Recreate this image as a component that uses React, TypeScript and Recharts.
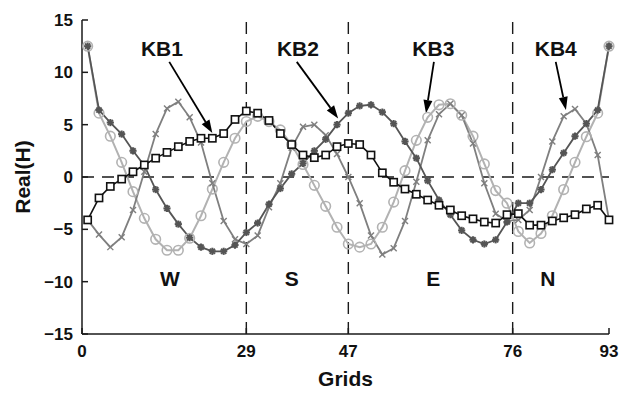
import React from "react";
import { LineChart, Line, XAxis, YAxis, ReferenceLine, ReferenceDot, Label } from "recharts";

// grid index of every sampled point
const grids = [
  1, 3, 5, 7, 9, 11, 13, 15, 17, 19, 21, 23, 25, 27, 29, 31, 33, 35, 37, 39, 41, 43, 45, 47,
  49, 51, 53, 55, 57, 59, 61, 63, 65, 67, 69, 71, 73, 75, 77, 79, 81, 83, 85, 87, 89, 91, 93,
];

const kb1 = [
  -4.1, -2.0, -0.9, -0.2, 0.5, 1.15, 1.8, 2.35, 2.9, 3.4, 3.7, 3.7, 4.15, 5.5, 6.3, 6.1, 5.4,
  4.15, 3.1, 2.1, 1.85, 2.1, 2.9, 3.2, 3.1, 2.1, 0.4, -0.5, -1.15, -1.65, -2.2, -2.7, -3.15,
  -3.7, -4.0, -4.3, -4.4, -3.6, -3.5, -4.6, -4.6, -4.2, -3.9, -3.6, -3.05, -2.7, -4.1,
];

const kb2 = [
  12.5, 6.4, 5.2, 4.1, 2.5, 1.1, -1.2, -3.0, -4.5, -5.8, -6.7, -7.1, -7.1, -6.5, -5.3, -4.4,
  -2.6, -1.1, 0.3, 1.3, 2.5, 3.6, 5.0, 6.1, 6.8, 6.9, 6.2, 5.1, 3.4, 1.8, -0.35, -2.2, -3.6,
  -5.1, -6.0, -6.4, -6.0, -4.3, -2.5, -2.5, -1.2, 0.7, 2.3, 3.9, 5.1, 6.4, 12.5,
];

const kb3 = [
  12.5, 6.1, 3.9, 1.4, -1.4, -3.95, -5.95, -7.0, -7.0, -5.85, -3.7, -1.15, 1.4, 3.7, 5.3, 5.8,
  5.3, 4.5, 3.1, 1.2, -0.8, -2.8, -4.8, -6.4, -6.7, -6.4, -4.8, -2.4, 0.6, 3.5, 5.7, 6.9, 7.0,
  5.9, 3.9, 1.25, -1.3, -2.5, -5.2, -6.3, -5.4, -3.7, -1.2, 1.4, 3.85, 6.1, 12.5,
];

const kb4 = [
  -4.1, -5.5, -6.7, -5.75, -3.15, 0.5, 4.1, 6.55, 7.2, 5.7, 3.3, -0.6, -4.2, -5.95, -6.4, -5.6,
  -2.9, -0.6, 2.8, 4.8, 5.0, 4.0, 2.2, 0.0, -2.5, -5.6, -7.4, -6.8, -4.2, -0.45, 3.5, 6.0, 7.0,
  5.9, 3.2, -0.6, -3.5, -4.2, -4.1, -3.15, 0.0, 3.4, 5.8, 6.5, 5.1, 2.1, -4.1,
];

const xTicks = [0, 29, 47, 76, 93];
const yTicks = [-15, -10, -5, 0, 5, 10, 15];
const regionBounds = [29, 47, 76];
const regionNames = ["W", "S", "E", "N"];
const seriesNames = ["KB1", "KB2", "KB3", "KB4"];

const data = grids.map((g, i) => ({ grid: g, kb1: kb1[i], kb2: kb2[i], kb3: kb3[i], kb4: kb4[i] }));

const FONT = "'Liberation Sans', Arial, Helvetica, sans-serif";
const AXIS = "#1a1a1a";

// where the region letters and the series callouts sit, in data units
const regionPos = [
  { x: 15.5, y: -9.7 },
  { x: 37, y: -9.7 },
  { x: 62, y: -9.7 },
  { x: 82.2, y: -9.7 },
];
const calloutPos = [
  { tx: 14.1, ty: 12.3, from: { x: 15.4, y: 11.0 }, to: { x: 23.0, y: 4.2 } },
  { tx: 38.1, ty: 12.3, from: { x: 37.9, y: 11.0 }, to: { x: 45.2, y: 5.6 } },
  { tx: 62.0, ty: 12.3, from: { x: 62.1, y: 11.0 }, to: { x: 60.7, y: 6.1 } },
  { tx: 83.6, ty: 12.3, from: { x: 83.6, y: 11.0 }, to: { x: 85.4, y: 6.4 } },
];

const fmt = (v: number) => String(v).replace("-", "\u2212");

const BottomTick = (props: any) => {
  const { x, y, payload } = props;
  return (
    <g>
      <line x1={x} y1={y} x2={x} y2={y - 6} stroke={AXIS} strokeWidth={1.5} />
      <text x={x} y={y + 23} textAnchor="middle" fontFamily={FONT} fontWeight="bold" fontSize={17} fill="#111">
        {fmt(payload.value)}
      </text>
    </g>
  );
};

const TopTick = (props: any) => {
  const { x, y } = props;
  return <line x1={x} y1={y} x2={x} y2={y + 6} stroke={AXIS} strokeWidth={1.5} />;
};

const LeftTick = (props: any) => {
  const { x, y, payload } = props;
  return (
    <g>
      <line x1={x} y1={y} x2={x + 6} y2={y} stroke={AXIS} strokeWidth={1.5} />
      <text x={x - 9} y={y} dy="0.36em" textAnchor="end" fontFamily={FONT} fontWeight="bold" fontSize={17} fill="#111">
        {fmt(payload.value)}
      </text>
    </g>
  );
};

const RightTick = (props: any) => {
  const { x, y } = props;
  return <line x1={x} y1={y} x2={x - 6} y2={y} stroke={AXIS} strokeWidth={1.5} />;
};

const SquareDot = (p: any) => (
  <rect key={`sq-${p.index}`} x={p.cx - 3.6} y={p.cy - 3.6} width={7.2} height={7.2} fill="#fff" stroke="#111" strokeWidth={1.6} />
);

const StarDot = (p: any) => {
  const r = 3.6;
  return (
    <g key={`st-${p.index}`} stroke="#555" strokeWidth={2}>
      <line x1={p.cx - r} y1={p.cy} x2={p.cx + r} y2={p.cy} />
      <line x1={p.cx} y1={p.cy - r} x2={p.cx} y2={p.cy + r} />
      <line x1={p.cx - r * 0.72} y1={p.cy - r * 0.72} x2={p.cx + r * 0.72} y2={p.cy + r * 0.72} />
      <line x1={p.cx - r * 0.72} y1={p.cy + r * 0.72} x2={p.cx + r * 0.72} y2={p.cy - r * 0.72} />
    </g>
  );
};

const CircleDot = (p: any) => (
  <circle key={`ci-${p.index}`} cx={p.cx} cy={p.cy} r={4.8} fill="none" stroke="#b2b2b2" strokeWidth={1.6} />
);

const CrossDot = (p: any) => (
  <g key={`cr-${p.index}`} stroke="#7f7f7f" strokeWidth={1.4}>
    <line x1={p.cx - 3} y1={p.cy - 3} x2={p.cx + 3} y2={p.cy + 3} />
    <line x1={p.cx - 3} y1={p.cy + 3} x2={p.cx + 3} y2={p.cy - 3} />
  </g>
);

// callout arrow: shaft plus a filled head at the second point
const Arrow = (props: any) => {
  const { x1, y1, x2, y2 } = props;
  const ang = Math.atan2(y2 - y1, x2 - x1);
  const len = 13;
  const half = 4.5;
  const bx = x2 - len * Math.cos(ang);
  const by = y2 - len * Math.sin(ang);
  const nx = -Math.sin(ang) * half;
  const ny = Math.cos(ang) * half;
  return (
    <g>
      <line x1={x1} y1={y1} x2={bx} y2={by} stroke="#000" strokeWidth={1.8} />
      <polygon points={`${x2},${y2} ${bx + nx},${by + ny} ${bx - nx},${by - ny}`} fill="#000" />
    </g>
  );
};

const textShape = (value: string) => (props: any) => (
  <text
    x={props.cx}
    y={props.cy}
    dy="0.36em"
    textAnchor="middle"
    fontFamily={FONT}
    fontWeight="bold"
    fontSize={21}
    fill="#111"
  >
    {value}
  </text>
);

export default function App() {
  return (
    <div style={{ position: "absolute", left: 0, top: 0, width: 621, height: 393, background: "#fff" }}>
      <LineChart width={621} height={393} data={data} margin={{ top: 20, right: 12, bottom: 0, left: 0 }}>
        <XAxis
          dataKey="grid"
          type="number"
          domain={[0, 93]}
          ticks={xTicks}
          interval={0}
          tickSize={0}
          tickMargin={0}
          tick={<BottomTick />}
          tickLine={false}
          height={59}
          axisLine={{ stroke: AXIS, strokeWidth: 1.5 }}
        >
          <Label
            content={(p: any) => (
              <text
                x={p.viewBox.x + p.viewBox.width / 2}
                y={p.viewBox.y + p.viewBox.height - 7}
                textAnchor="middle"
                fontFamily={FONT}
                fontWeight="bold"
                fontSize={21}
                fill="#111"
              >
                Grids
              </text>
            )}
          />
        </XAxis>
        <XAxis
          xAxisId="top"
          orientation="top"
          dataKey="grid"
          type="number"
          domain={[0, 93]}
          ticks={xTicks}
          interval={0}
          tickSize={0}
          tickMargin={0}
          tick={<TopTick />}
          tickLine={false}
          height={0}
          axisLine={{ stroke: AXIS, strokeWidth: 1.5 }}
        />
        <YAxis
          type="number"
          domain={[-15, 15]}
          ticks={yTicks}
          interval={0}
          tickSize={0}
          tickMargin={0}
          tick={<LeftTick />}
          tickLine={false}
          width={82}
          axisLine={{ stroke: AXIS, strokeWidth: 1.5 }}
        >
          <Label
            content={(p: any) => {
              const cx = p.viewBox.x + 22;
              const cy = p.viewBox.y + p.viewBox.height / 2;
              return (
                <text
                  x={cx}
                  y={cy}
                  transform={`rotate(-90 ${cx} ${cy})`}
                  dy="0.36em"
                  textAnchor="middle"
                  fontFamily={FONT}
                  fontWeight="bold"
                  fontSize={21}
                  fill="#111"
                >
                  Real(H)
                </text>
              );
            }}
          />
        </YAxis>
        <YAxis
          yAxisId="right"
          orientation="right"
          type="number"
          domain={[-15, 15]}
          ticks={yTicks}
          interval={0}
          tickSize={0}
          tickMargin={0}
          tick={<RightTick />}
          tickLine={false}
          width={0}
          axisLine={{ stroke: AXIS, strokeWidth: 1.5 }}
        />

        <ReferenceLine y={0} stroke={AXIS} strokeWidth={1.4} strokeDasharray="12 8" />
        {regionBounds.map((b) => (
          <ReferenceLine key={`rb-${b}`} x={b} stroke={AXIS} strokeWidth={1.4} strokeDasharray="12 8" />
        ))}

        <Line dataKey="kb3" type="linear" stroke="#b2b2b2" strokeWidth={2} dot={CircleDot} isAnimationActive={false} />
        <Line dataKey="kb4" type="linear" stroke="#7f7f7f" strokeWidth={1.8} dot={CrossDot} isAnimationActive={false} />
        <Line dataKey="kb2" type="linear" stroke="#555" strokeWidth={1.8} dot={StarDot} isAnimationActive={false} />
        <Line dataKey="kb1" type="linear" stroke="#111" strokeWidth={1.6} dot={SquareDot} isAnimationActive={false} />

        {regionNames.map((n, i) => (
          <ReferenceDot key={`rn-${n}`} x={regionPos[i].x} y={regionPos[i].y} r={0} shape={textShape(n)} />
        ))}
        {seriesNames.map((n, i) => (
          <ReferenceLine
            key={`ar-${n}`}
            segment={[calloutPos[i].from, calloutPos[i].to]}
            shape={Arrow}
          />
        ))}
        {seriesNames.map((n, i) => (
          <ReferenceDot key={`sn-${n}`} x={calloutPos[i].tx} y={calloutPos[i].ty} r={0} shape={textShape(n)} />
        ))}
      </LineChart>
    </div>
  );
}
